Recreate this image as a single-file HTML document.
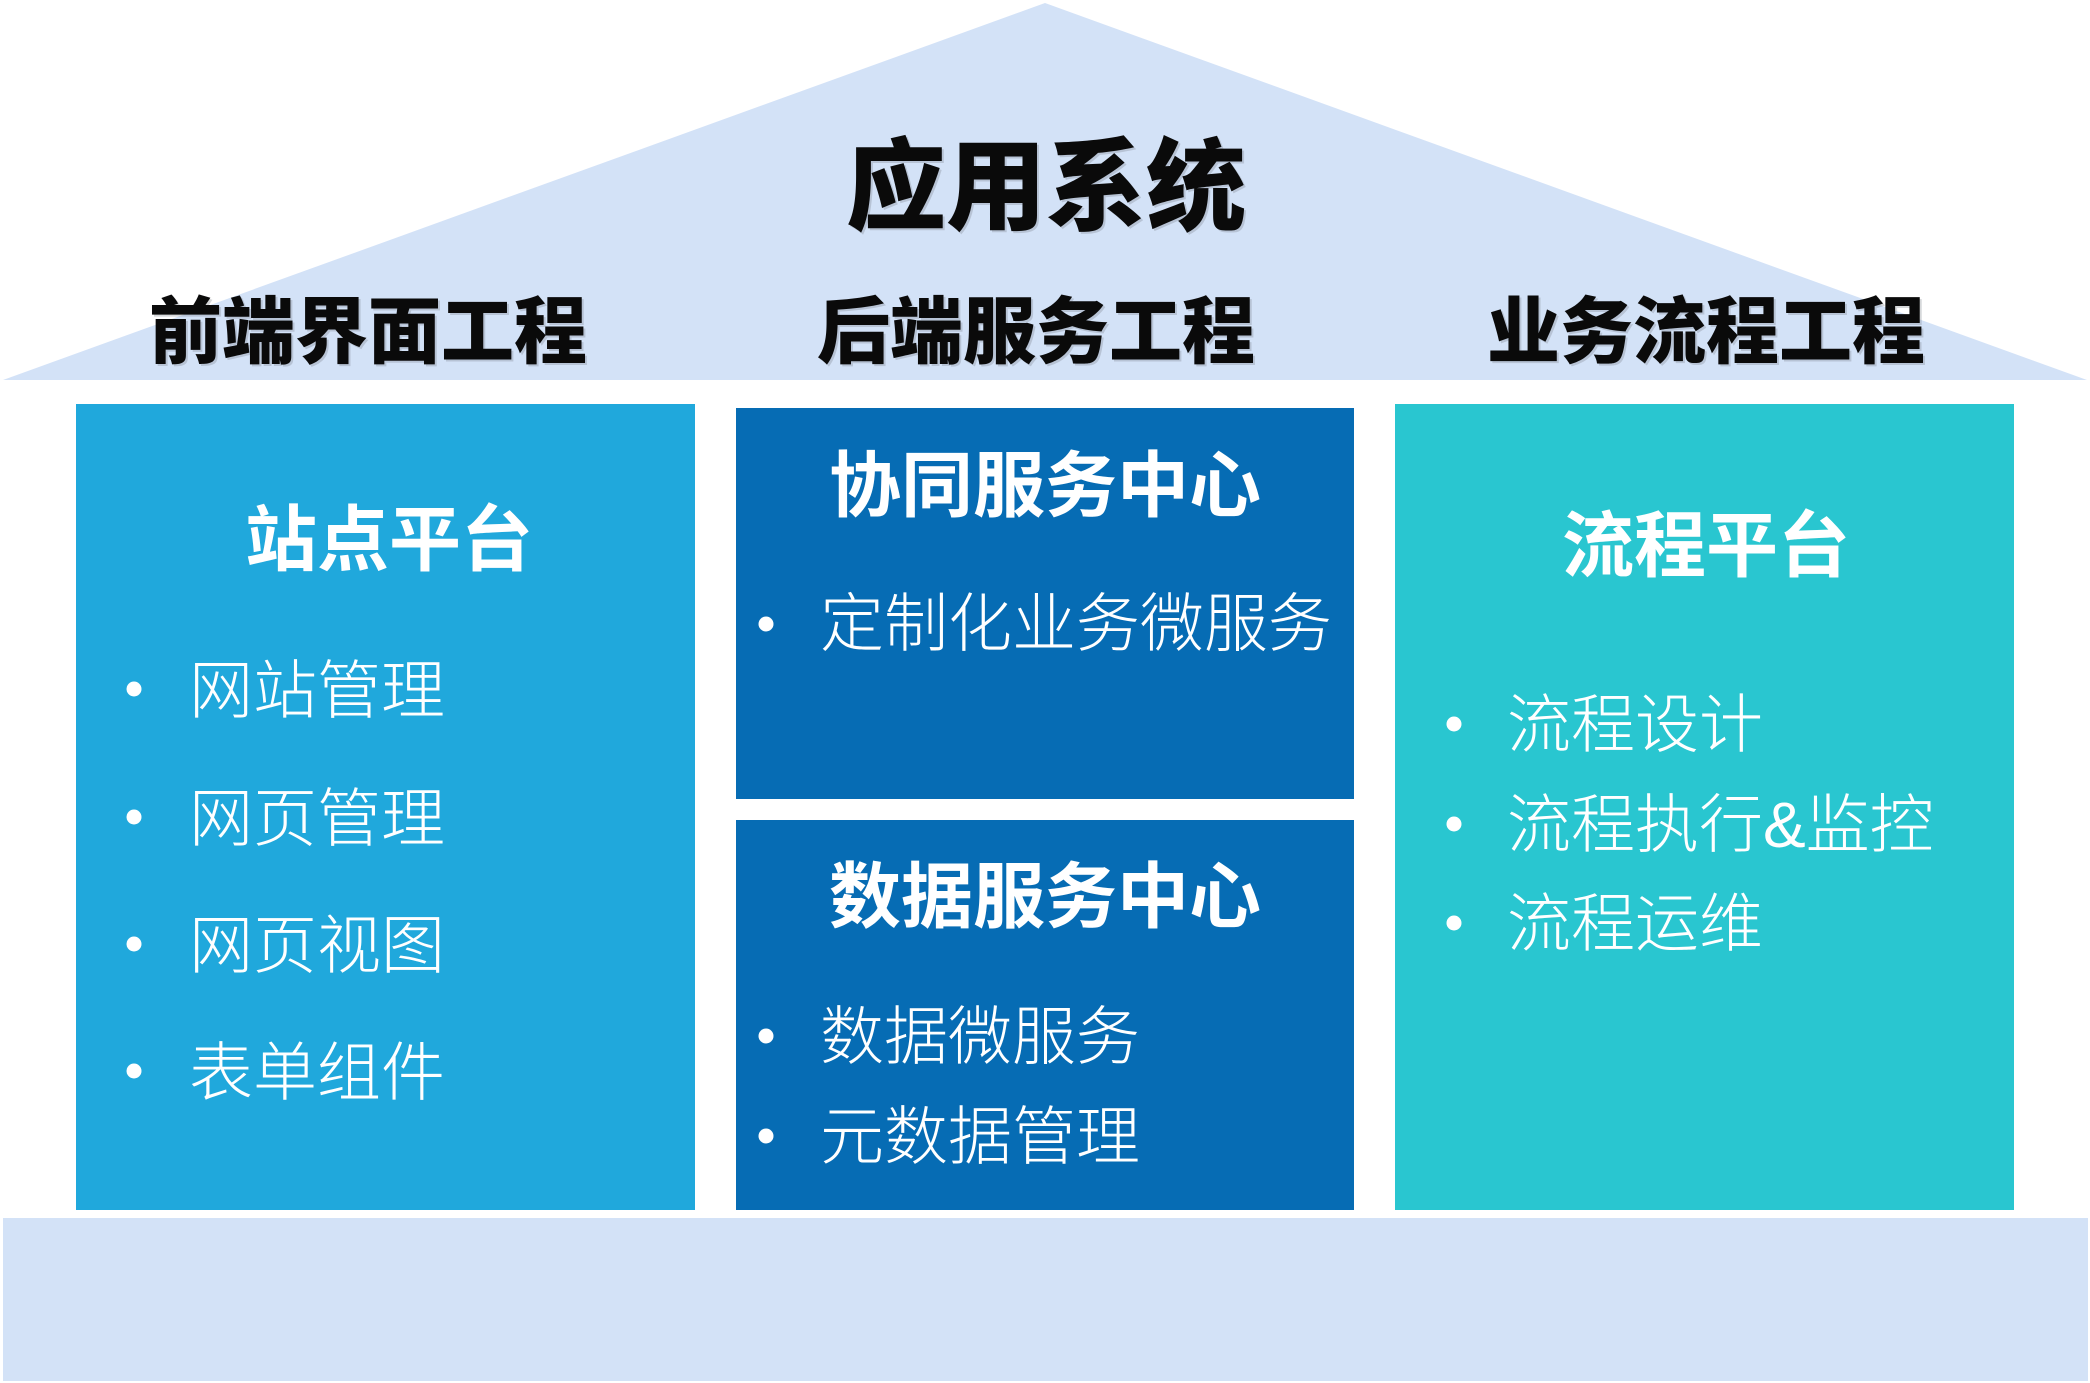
<!DOCTYPE html>
<html>
<head>
<meta charset="utf-8">
<style>
  html, body { margin:0; padding:0; background:#ffffff; }
  body { width:2090px; height:1383px; overflow:hidden; }
  svg { display:block; }
  .t { font-family:"Liberation Sans","Noto Sans CJK SC","WenQuanYi Zen Hei",sans-serif; }
</style>
</head>
<body>
<svg width="2090" height="1383" viewBox="0 0 2090 1383" xmlns="http://www.w3.org/2000/svg">
  <rect x="0" y="0" width="2090" height="1383" fill="#ffffff"/>
  <!-- roof -->
  <polygon points="3,380 1045,3 2087,380" fill="#d3e2f7"/>
  <!-- base -->
  <rect x="3" y="1218" width="2085" height="163" fill="#d3e2f7"/>
  <!-- pillars -->
  <rect x="76" y="404" width="619" height="806" fill="#20a8dc"/>
  <rect x="736" y="408" width="618" height="391" fill="#066cb4"/>
  <rect x="736" y="820" width="618" height="390" fill="#066cb4"/>
  <rect x="1395" y="404" width="619" height="806" fill="#29c6d0"/>

  <!-- roof titles (shadow) -->
  <g class="t" font-weight="900" fill="#7a7f88" opacity="0.3">
    <text x="1048" y="224" font-size="100" text-anchor="middle">应用系统</text>
    <text x="370" y="359" font-size="73" text-anchor="middle">前端界面工程</text>
    <text x="1038" y="359" font-size="73" text-anchor="middle">后端服务工程</text>
    <text x="1708" y="359" font-size="73" text-anchor="middle">业务流程工程</text>
  </g>
  <g class="t" font-weight="900" fill="#0a0a0a">
    <text x="1046" y="222" font-size="100" text-anchor="middle">应用系统</text>
    <text x="368" y="357" font-size="73" text-anchor="middle">前端界面工程</text>
    <text x="1036" y="357" font-size="73" text-anchor="middle">后端服务工程</text>
    <text x="1706" y="357" font-size="73" text-anchor="middle">业务流程工程</text>
  </g>

  <!-- box titles -->
  <g class="t" font-weight="700" fill="#ffffff" font-size="72">
    <text x="389" y="565" text-anchor="middle">站点平台</text>
    <text x="1045" y="511" text-anchor="middle">协同服务中心</text>
    <text x="1045" y="922" text-anchor="middle">数据服务中心</text>
    <text x="1706" y="571" text-anchor="middle">流程平台</text>
  </g>

  <!-- bullets -->
  <g fill="#ffffff">
    <circle cx="134" cy="689" r="7.5"/>
    <circle cx="134" cy="817" r="7.5"/>
    <circle cx="134" cy="944" r="7.5"/>
    <circle cx="134" cy="1071" r="7.5"/>
    <circle cx="766" cy="624" r="7.5"/>
    <circle cx="766" cy="1036" r="7.5"/>
    <circle cx="766" cy="1136" r="7.5"/>
    <circle cx="1454" cy="724" r="7.5"/>
    <circle cx="1454" cy="824" r="7.5"/>
    <circle cx="1454" cy="923" r="7.5"/>
  </g>

  <!-- items -->
  <g class="t" font-weight="300" fill="#ffffff" font-size="64">
    <text x="189" y="713">网站管理</text>
    <text x="189" y="841">网页管理</text>
    <text x="189" y="968">网页视图</text>
    <text x="189" y="1095">表单组件</text>

    <text x="820" y="646">定制化业务微服务</text>
    <text x="820" y="1059">数据微服务</text>
    <text x="820" y="1159">元数据管理</text>

    <text x="1507" y="747">流程设计</text>
    <text x="1507" y="847">流程执行&amp;监控</text>
    <text x="1507" y="946">流程运维</text>
  </g>
</svg>
</body>
</html>
